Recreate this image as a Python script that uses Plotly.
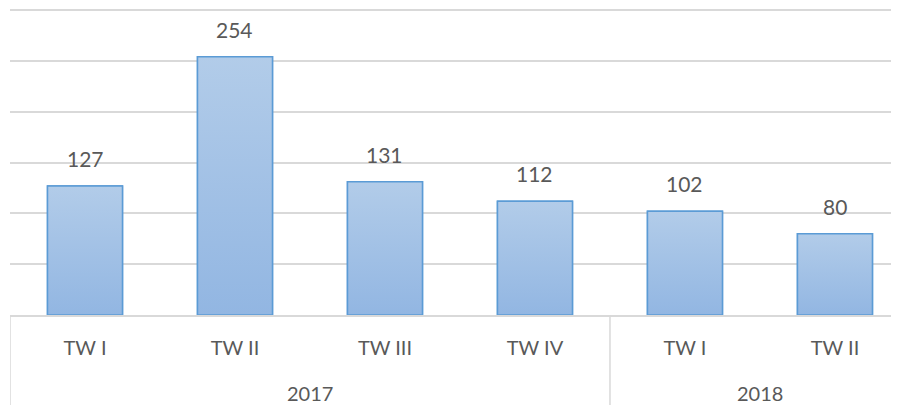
import plotly.graph_objects as go

years = ["2017", "2017", "2017", "2017", "2018", "2018"]
quarters = ["TW I", "TW II", "TW III", "TW IV", "TW I", "TW II"]
values = [127, 254, 131, 112, 102, 80]

TEXT = "#595959"
GRID = "#d9d9d9"
EDGE = "#5b9bd5"
HALF = 0.25
pos = list(range(len(values)))

fig = go.Figure()

fig.add_trace(go.Bar(
    x=pos,
    y=values,
    width=2 * HALF,
    marker=dict(color="#a2c1e7", line=dict(color=EDGE, width=1.5)),
    hoverinfo="skip",
))

# per-bar vertical gradient, drawn over the flat bars
for i, v in zip(pos, values):
    fig.add_trace(go.Scatter(
        x=[i - HALF, i + HALF, i + HALF, i - HALF, i - HALF],
        y=[0, 0, v, v, 0],
        mode="lines",
        fill="toself",
        fillgradient=dict(type="vertical", start=0, stop=v,
                          colorscale=[[0, "#92b6e2"], [1, "#b2cce9"]]),
        line=dict(color=EDGE, width=1.5),
        hoverinfo="skip",
        showlegend=False,
    ))

# data labels
for i, v in zip(pos, values):
    fig.add_annotation(x=i, y=v, text=str(v), showarrow=False,
                       yanchor="bottom", yshift=13,
                       font=dict(size=21, color=TEXT))

# year group labels and dividers
groups = []
for i, y in enumerate(years):
    if not groups or groups[-1][0] != y:
        groups.append([y, i, i])
    else:
        groups[-1][2] = i

for name, first, last in groups:
    fig.add_annotation(x=(first + last) / 2, y=0, yref="paper", text=name,
                       showarrow=False, yanchor="middle", yshift=-78,
                       font=dict(size=20, color=TEXT))
    fig.add_shape(type="line", x0=first - 0.5, x1=first - 0.5, y0=0, y1=-0.35,
                  yref="paper", line=dict(color=GRID, width=1.5))

# the page body adds an 8px offset, so the figure is trimmed to fit the window
fig.update_layout(
    width=891,
    height=397,
    margin=dict(l=2, r=0, t=1, b=90),
    paper_bgcolor="white",
    plot_bgcolor="white",
    showlegend=False,
    font=dict(family="Lato", color=TEXT, size=20),
    xaxis=dict(
        range=[-0.5, 5.427],
        tickvals=pos,
        ticktext=quarters,
        showline=True,
        linecolor=GRID,
        linewidth=1.5,
        showgrid=False,
        zeroline=False,
        ticks="",
        ticklabelstandoff=14,
        tickfont=dict(size=20, color=TEXT),
        automargin=False,
    ),
    yaxis=dict(
        range=[0, 301],
        tickvals=[0, 50, 100, 150, 200, 250, 300],
        showgrid=True,
        gridcolor=GRID,
        gridwidth=1.5,
        showticklabels=False,
        zeroline=False,
        automargin=False,
    ),
)

fig.write_html("out.html")
